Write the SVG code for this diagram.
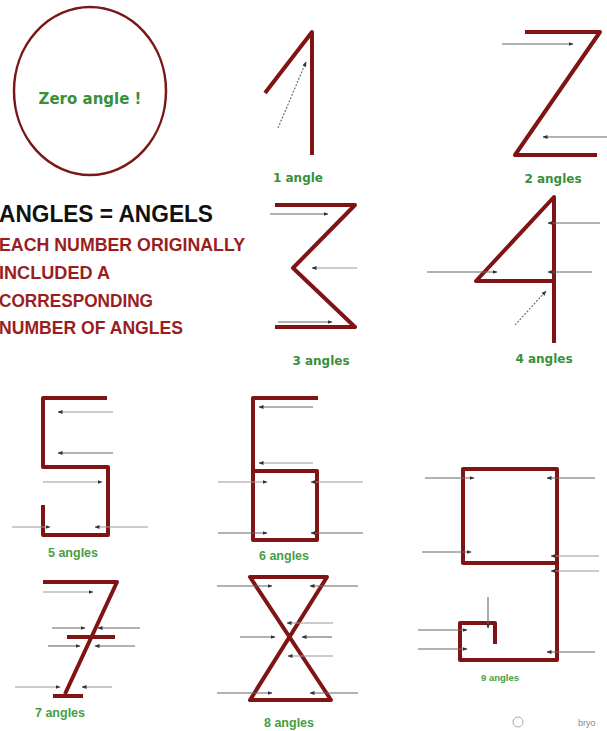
<svg xmlns="http://www.w3.org/2000/svg" width="607" height="731" viewBox="0 0 607 731">
<defs>
<marker id="ah" viewBox="0 0 10 10" refX="9" refY="5" markerWidth="5" markerHeight="5" markerUnits="userSpaceOnUse" orient="auto">
<path d="M0,1 L10,5 L0,9 z" fill="#333"/>
</marker>
<style>
.fig{fill:none;stroke:#801414;stroke-width:4;stroke-linejoin:round;stroke-linecap:butt}
.arr{stroke:#666;stroke-width:1.1;fill:none;marker-end:url(#ah)}
.lite{stroke:#999}
.dash{stroke-dasharray:2 1.5}
.lc{font-family:"DejaVu Sans",sans-serif;font-weight:bold;font-size:12px;fill:#3a8f3a;text-anchor:middle}
.lb{font-family:"Liberation Sans",Arial,sans-serif;font-weight:bold;font-size:12.5px;fill:#45a045;text-anchor:middle}
.red{font-family:"Liberation Sans",Arial,sans-serif;font-weight:bold;font-size:18px;fill:#9a1e1e}
</style>
</defs>
<rect width="607" height="731" fill="#ffffff"/>

<g id="zero">
<ellipse cx="90" cy="91" rx="76" ry="84" fill="none" stroke="#7a1818" stroke-width="2.5"/>
<text class="lc" x="90" y="104" style="font-size:15px">Zero angle !</text>
</g>

<g id="title">
<text x="-1" y="222" font-family="'Liberation Sans',Arial,sans-serif" font-weight="bold" font-size="24" fill="#111" textLength="214" lengthAdjust="spacingAndGlyphs">ANGLES = ANGELS</text>
<text class="red" x="-1" y="251" textLength="246" lengthAdjust="spacingAndGlyphs">EACH NUMBER ORIGINALLY</text>
<text class="red" x="-1" y="279" textLength="111" lengthAdjust="spacingAndGlyphs">INCLUDED A</text>
<text class="red" x="-1" y="307" textLength="154" lengthAdjust="spacingAndGlyphs">CORRESPONDING</text>
<text class="red" x="-1" y="334" textLength="184" lengthAdjust="spacingAndGlyphs">NUMBER OF ANGLES</text>
</g>

<g id="one">
<polyline class="fig" points="265,93 312,32 312,155"/>
<text class="lc" x="298" y="182">1 angle</text>
</g>

<g id="two">
<polyline class="fig" points="525,32 600,32 515,155 597,155"/>
<text class="lc" x="553" y="183">2 angles</text>
</g>

<g id="three">
<polyline class="fig" points="275,205 355,205 293,268 355,327 275,327"/>
<text class="lc" x="321" y="365">3 angles</text>
</g>

<g id="four">
<polyline class="fig" points="554,343 554,197 476,281 554,281"/>
<text class="lc" x="544" y="363">4 angles</text>
</g>

<g id="five">
<polyline class="fig" points="107,398 43,398 43,467 108,467 108,535 43,535 43,505"/>
<text class="lb" x="73" y="557">5 angles</text>
</g>

<g id="six">
<polyline class="fig" points="318,398 253,398 253,540 317,540 317,471 253,471"/>
<text class="lb" x="284" y="560">6 angles</text>
</g>

<g id="seven">
<polyline class="fig" points="43,582 117,582 65,694"/>
<line class="fig" x1="67" y1="637" x2="115" y2="637"/>
<line class="fig" x1="53" y1="696" x2="83" y2="696"/>
<text class="lb" x="60" y="717">7 angles</text>
</g>

<g id="eight">
<polygon class="fig" points="250,577 327,577 250,700 331,700"/>
<text class="lb" x="289" y="727">8 angles</text>
</g>

<g id="nine">
<polyline class="fig" points="557,563 463,563 463,469 557,469 557,660 460,660 460,623 495,623 495,644"/>
<text class="lb" x="500" y="681" style="font-size:9.5px">9 angles</text>
</g>

<g id="credit">
<circle cx="518" cy="722" r="5" fill="none" stroke="#aaa" stroke-width="1"/>
<text x="578" y="726" font-family="'Liberation Sans',Arial,sans-serif" font-size="9" fill="#888">bryo</text>
</g>

<g id="connectors">
<line class="arr dash" x1="278" y1="128" x2="306" y2="62"/>
<line class="arr" x1="502" y1="44" x2="573" y2="44"/>
<line class="arr" x1="607" y1="137" x2="543" y2="137"/>
<line class="arr" x1="270" y1="214" x2="328" y2="214"/>
<line class="arr lite" x1="357" y1="268" x2="312" y2="268"/>
<line class="arr" x1="278" y1="322" x2="332" y2="322"/>
<line class="arr" x1="600" y1="223" x2="548" y2="223"/>
<line class="arr" x1="427" y1="272" x2="497" y2="272"/>
<line class="arr" x1="592" y1="272" x2="548" y2="272"/>
<line class="arr dash" x1="515" y1="325" x2="546" y2="291"/>
<line class="arr lite" x1="113" y1="412" x2="58" y2="412"/>
<line class="arr" x1="113" y1="453" x2="58" y2="453"/>
<line class="arr lite" x1="43" y1="482" x2="102" y2="482"/>
<line class="arr lite" x1="12" y1="527" x2="50" y2="527"/>
<line class="arr lite" x1="148" y1="527" x2="95" y2="527"/>
<line class="arr" x1="313" y1="407" x2="259" y2="407"/>
<line class="arr lite" x1="313" y1="463" x2="259" y2="463"/>
<line class="arr lite" x1="218" y1="482" x2="267" y2="482"/>
<line class="arr lite" x1="363" y1="482" x2="311" y2="482"/>
<line class="arr" x1="218" y1="533" x2="267" y2="533"/>
<line class="arr" x1="363" y1="533" x2="311" y2="533"/>
<line class="arr lite" x1="43" y1="592" x2="93" y2="592"/>
<line class="arr" x1="52" y1="628" x2="85" y2="628"/>
<line class="arr" x1="140" y1="628" x2="98" y2="628"/>
<line class="arr" x1="48" y1="646" x2="80" y2="646"/>
<line class="arr" x1="135" y1="646" x2="95" y2="646"/>
<line class="arr lite" x1="15" y1="687" x2="60" y2="687"/>
<line class="arr lite" x1="112" y1="687" x2="82" y2="687"/>
<line class="arr" x1="217" y1="586" x2="272" y2="586"/>
<line class="arr" x1="358" y1="586" x2="310" y2="586"/>
<line class="arr lite" x1="333" y1="623" x2="287" y2="623"/>
<line class="arr" x1="240" y1="637" x2="275" y2="637"/>
<line class="arr" x1="332" y1="637" x2="302" y2="637"/>
<line class="arr lite" x1="333" y1="656" x2="288" y2="656"/>
<line class="arr" x1="217" y1="693" x2="272" y2="693"/>
<line class="arr" x1="358" y1="693" x2="310" y2="693"/>
<line class="arr" x1="425" y1="478" x2="474" y2="478"/>
<line class="arr" x1="595" y1="478" x2="547" y2="478"/>
<line class="arr" x1="422" y1="552" x2="471" y2="552"/>
<line class="arr lite" x1="599" y1="556" x2="551" y2="556"/>
<line class="arr lite" x1="599" y1="571" x2="551" y2="571"/>
<line class="arr" x1="488" y1="597" x2="488" y2="628"/>
<line class="arr" x1="418" y1="630" x2="467" y2="630"/>
<line class="arr" x1="418" y1="649" x2="467" y2="649"/>
<line class="arr" x1="595" y1="652" x2="547" y2="652"/>
</g>
</svg>
